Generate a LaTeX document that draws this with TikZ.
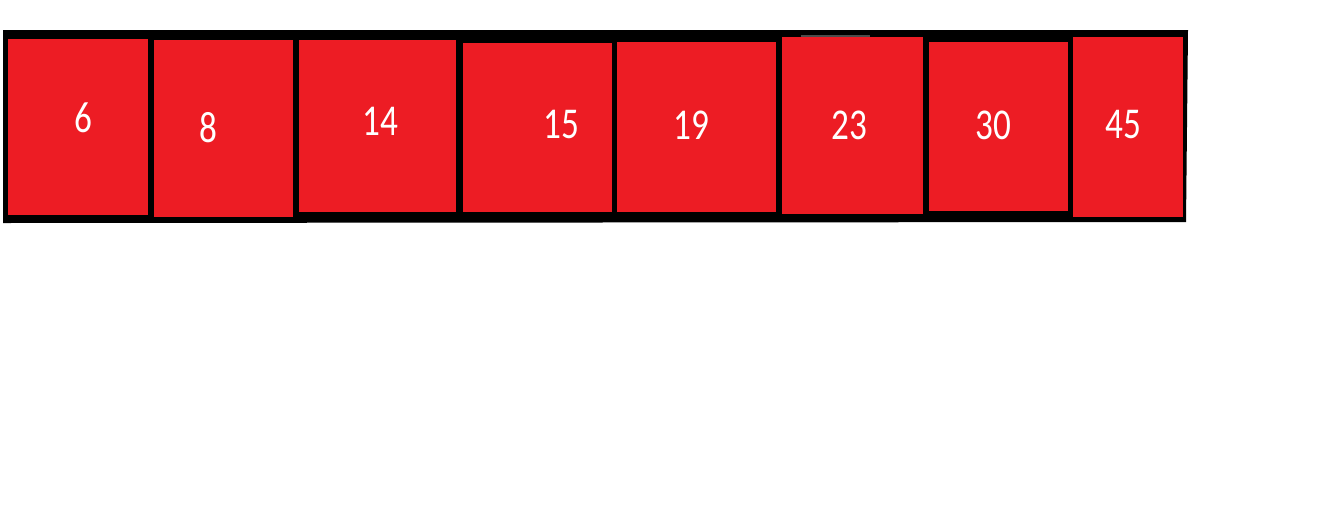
\documentclass[tikz,border=0pt]{standalone}
\usepackage{fontspec}
\setmainfont{Carlito}
\newfontfamily\narrowfont[FakeStretch=0.8]{Carlito}
\definecolor{boxred}{HTML}{ED1C24}
\tikzset{
  cell/.style={fill=boxred, draw=none, inner sep=0pt, outer sep=0pt, anchor=north west},
  num/.style={text=white, inner sep=0pt, font=\narrowfont\fontsize{44}{44}\selectfont},
}
\begin{document}
\begin{tikzpicture}[x=1pt,y=-1pt]
\useasboundingbox[fill=white] (0,0) rectangle (1317,531);
\fill[black] (3,30) -- (1188,30) -- (1186,222) -- (3,223) -- cycle;
\node[cell, minimum width=140pt, minimum height=176pt] (c1) at (8,39) {};
\node[cell, minimum width=139pt, minimum height=177pt] (c2) at (154,40) {};
\node[cell, minimum width=157pt, minimum height=172pt] (c3) at (299,40) {};
\node[cell, minimum width=149pt, minimum height=169pt] (c4) at (463,43) {};
\node[cell, minimum width=159pt, minimum height=170pt] (c5) at (617,42) {};
\node[cell, minimum width=141pt, minimum height=177pt] (c6) at (782,37) {};
\node[cell, minimum width=139pt, minimum height=169pt] (c7) at (929,42) {};
\node[cell, minimum width=110pt, minimum height=180pt] (c8) at (1073,37) {};
\fill[black!70] (801,35) rectangle (870,37);
\node[num] (t1) at (83,118) {6};
\node[num] (t2) at (208,127.5) {8};
\node[num] (t3) at (380,121.5) {14};
\node[num] (t4) at (561,124.5) {15};
\node[num] (t5) at (691,125.5) {19};
\node[num] (t6) at (849,125.5) {23};
\node[num] (t7) at (993,125) {30};
\node[num] (t8) at (1123,125) {45};
\end{tikzpicture}
\end{document}
